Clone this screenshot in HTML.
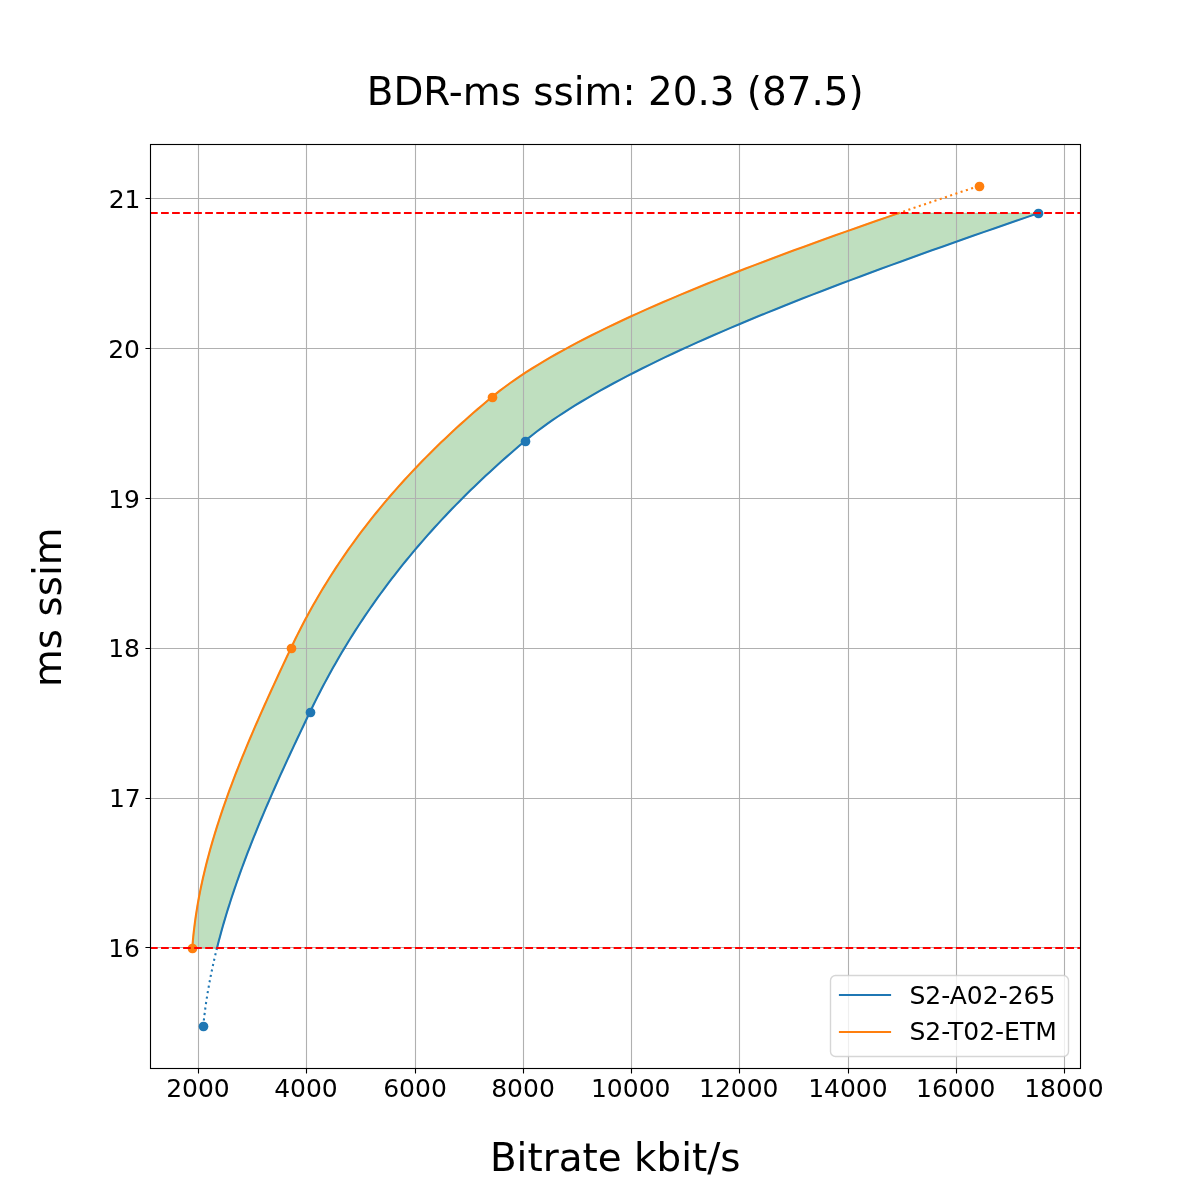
<!DOCTYPE html>
<html lang="en"><head><meta charset="utf-8"><title>BDR-ms ssim: 20.3 (87.5)</title>
<style>
html,body{margin:0;padding:0;background:#fff;overflow:hidden;}
svg{display:block;}
text{font-family:"DejaVu Sans","Liberation Sans",sans-serif;fill:#000;}
.tk{font-size:25px;}
.lb{font-size:38.89px;}
</style></head><body>
<svg width="1200" height="1200" viewBox="0 0 1200 1200">
<rect width="1200" height="1200" fill="#fff"/>
<path id="band" d="M216.95,948.25 L217.88,944.56 L218.83,940.86 L219.81,937.17 L220.81,933.48 L221.83,929.79 L222.87,926.09 L223.94,922.40 L225.02,918.71 L226.13,915.02 L227.26,911.32 L228.41,907.63 L229.58,903.94 L230.76,900.24 L231.97,896.55 L233.20,892.86 L234.44,889.17 L235.71,885.47 L236.99,881.78 L238.29,878.09 L239.60,874.40 L240.94,870.70 L242.29,867.01 L243.65,863.32 L245.04,859.63 L246.44,855.93 L247.85,852.24 L249.28,848.55 L250.73,844.86 L252.19,841.16 L253.66,837.47 L255.15,833.78 L256.65,830.08 L258.16,826.39 L259.69,822.70 L261.23,819.01 L262.79,815.31 L264.35,811.62 L265.93,807.93 L267.52,804.24 L269.12,800.54 L270.73,796.85 L272.35,793.16 L273.98,789.47 L275.62,785.77 L277.27,782.08 L278.93,778.39 L280.60,774.69 L282.28,771.00 L283.96,767.31 L285.66,763.62 L287.36,759.92 L289.07,756.23 L290.78,752.54 L292.51,748.85 L294.24,745.15 L295.97,741.46 L297.71,737.77 L299.46,734.08 L301.21,730.38 L302.97,726.69 L304.73,723.00 L306.50,719.31 L308.27,715.61 L310.04,711.92 L311.83,708.23 L313.64,704.53 L315.47,700.84 L317.33,697.15 L319.21,693.46 L321.12,689.76 L323.05,686.07 L325.01,682.38 L326.99,678.69 L329.00,674.99 L331.04,671.30 L333.10,667.61 L335.19,663.92 L337.31,660.22 L339.45,656.53 L341.63,652.84 L343.83,649.15 L346.06,645.45 L348.32,641.76 L350.61,638.07 L352.93,634.37 L355.28,630.68 L357.66,626.99 L360.07,623.30 L362.52,619.60 L364.99,615.91 L367.50,612.22 L370.04,608.53 L372.61,604.83 L375.21,601.14 L377.85,597.45 L380.52,593.76 L383.23,590.06 L385.97,586.37 L388.75,582.68 L391.56,578.99 L394.40,575.29 L397.28,571.60 L400.20,567.91 L403.16,564.21 L406.15,560.52 L409.18,556.83 L412.24,553.14 L415.35,549.44 L418.49,545.75 L421.67,542.06 L424.89,538.37 L428.15,534.67 L431.45,530.98 L434.78,527.29 L438.16,523.60 L441.58,519.90 L445.04,516.21 L448.54,512.52 L452.09,508.82 L455.67,505.13 L459.30,501.44 L462.97,497.75 L466.68,494.05 L470.44,490.36 L474.24,486.67 L478.09,482.98 L481.97,479.28 L485.91,475.59 L489.89,471.90 L493.91,468.21 L497.98,464.51 L502.10,460.82 L506.26,457.13 L510.47,453.44 L514.73,449.74 L519.03,446.05 L523.39,442.36 L527.81,438.66 L532.40,434.97 L537.16,431.28 L542.09,427.59 L547.19,423.89 L552.45,420.20 L557.88,416.51 L563.46,412.82 L569.20,409.12 L575.09,405.43 L581.14,401.74 L587.34,398.05 L593.68,394.35 L600.18,390.66 L606.81,386.97 L613.59,383.28 L620.50,379.58 L627.55,375.89 L634.74,372.20 L642.05,368.50 L649.50,364.81 L657.07,361.12 L664.77,357.43 L672.59,353.73 L680.53,350.04 L688.59,346.35 L696.77,342.66 L705.06,338.96 L713.46,335.27 L721.96,331.58 L730.58,327.89 L739.29,324.19 L748.11,320.50 L757.03,316.81 L766.05,313.12 L775.16,309.42 L784.36,305.73 L793.66,302.04 L803.04,298.34 L812.50,294.65 L822.05,290.96 L831.69,287.27 L841.40,283.57 L851.18,279.88 L861.04,276.19 L870.97,272.50 L880.97,268.80 L891.04,265.11 L901.17,261.42 L911.37,257.73 L921.62,254.03 L931.93,250.34 L942.30,246.65 L952.72,242.96 L963.20,239.26 L973.72,235.57 L984.28,231.88 L994.89,228.18 L1005.55,224.49 L1016.24,220.80 L1026.96,217.11 L1037.73,213.41 L897.91,213.41 L887.22,217.11 L876.58,220.80 L866.01,224.49 L855.51,228.18 L845.07,231.88 L834.70,235.57 L824.40,239.26 L814.19,242.96 L804.04,246.65 L793.99,250.34 L784.01,254.03 L774.12,257.73 L764.33,261.42 L754.62,265.11 L745.01,268.80 L735.50,272.50 L726.09,276.19 L716.79,279.88 L707.59,283.57 L698.50,287.27 L689.53,290.96 L680.66,294.65 L671.92,298.34 L663.30,302.04 L654.80,305.73 L646.43,309.42 L638.19,313.12 L630.08,316.81 L622.10,320.50 L614.26,324.19 L606.57,327.89 L599.01,331.58 L591.60,335.27 L584.34,338.96 L577.24,342.66 L570.28,346.35 L563.49,350.04 L556.85,353.73 L550.38,357.43 L544.07,361.12 L537.94,364.81 L531.97,368.50 L526.18,372.20 L520.56,375.89 L515.13,379.58 L509.87,383.28 L504.80,386.97 L499.92,390.66 L495.24,394.35 L490.74,398.05 L486.32,401.74 L481.96,405.43 L477.66,409.12 L473.40,412.82 L469.19,416.51 L465.04,420.20 L460.93,423.89 L456.87,427.59 L452.86,431.28 L448.91,434.97 L445.00,438.66 L441.13,442.36 L437.32,446.05 L433.55,449.74 L429.83,453.44 L426.16,457.13 L422.54,460.82 L418.96,464.51 L415.42,468.21 L411.93,471.90 L408.49,475.59 L405.09,479.28 L401.73,482.98 L398.42,486.67 L395.15,490.36 L391.92,494.05 L388.74,497.75 L385.60,501.44 L382.50,505.13 L379.44,508.82 L376.43,512.52 L373.45,516.21 L370.52,519.90 L367.62,523.60 L364.77,527.29 L361.95,530.98 L359.18,534.67 L356.44,538.37 L353.74,542.06 L351.08,545.75 L348.45,549.44 L345.87,553.14 L343.32,556.83 L340.80,560.52 L338.32,564.21 L335.88,567.91 L333.48,571.60 L331.10,575.29 L328.77,578.99 L326.47,582.68 L324.20,586.37 L321.96,590.06 L319.76,593.76 L317.59,597.45 L315.45,601.14 L313.35,604.83 L311.28,608.53 L309.23,612.22 L307.22,615.91 L305.24,619.60 L303.29,623.30 L301.37,626.99 L299.48,630.68 L297.62,634.37 L295.79,638.07 L293.99,641.76 L292.21,645.45 L290.46,649.15 L288.72,652.84 L286.98,656.53 L285.25,660.22 L283.52,663.92 L281.79,667.61 L280.07,671.30 L278.35,674.99 L276.64,678.69 L274.94,682.38 L273.24,686.07 L271.55,689.76 L269.86,693.46 L268.18,697.15 L266.51,700.84 L264.85,704.53 L263.20,708.23 L261.56,711.92 L259.92,715.61 L258.29,719.31 L256.68,723.00 L255.07,726.69 L253.48,730.38 L251.90,734.08 L250.33,737.77 L248.77,741.46 L247.22,745.15 L245.69,748.85 L244.16,752.54 L242.66,756.23 L241.16,759.92 L239.68,763.62 L238.22,767.31 L236.77,771.00 L235.33,774.69 L233.91,778.39 L232.51,782.08 L231.12,785.77 L229.75,789.47 L228.40,793.16 L227.07,796.85 L225.75,800.54 L224.45,804.24 L223.17,807.93 L221.91,811.62 L220.67,815.31 L219.45,819.01 L218.25,822.70 L217.07,826.39 L215.92,830.08 L214.78,833.78 L213.66,837.47 L212.57,841.16 L211.50,844.86 L210.45,848.55 L209.43,852.24 L208.43,855.93 L207.45,859.63 L206.50,863.32 L205.58,867.01 L204.68,870.70 L203.80,874.40 L202.95,878.09 L202.13,881.78 L201.33,885.47 L200.56,889.17 L199.82,892.86 L199.11,896.55 L198.42,900.24 L197.77,903.94 L197.14,907.63 L196.54,911.32 L195.98,915.02 L195.44,918.71 L194.93,922.40 L194.46,926.09 L194.01,929.79 L193.60,933.48 L193.22,937.17 L192.87,940.86 L192.55,944.56 L192.27,948.25Z" fill="#008000" fill-opacity="0.25" stroke="#008000" stroke-opacity="0.25" stroke-width="1.39" stroke-linejoin="miter"/>
<g id="grid">
<path d="M198.5,144.5V1068.5M306.5,144.5V1068.5M415.5,144.5V1068.5M523.5,144.5V1068.5M631.5,144.5V1068.5M739.5,144.5V1068.5M848.5,144.5V1068.5M956.5,144.5V1068.5M1064.5,144.5V1068.5M150.5,947.5H1080.5M150.5,798.5H1080.5M150.5,648.5H1080.5M150.5,498.5H1080.5M150.5,348.5H1080.5M150.5,198.5H1080.5" stroke="#b0b0b0" stroke-width="1.11" fill="none"/>
</g>
<g id="ticks">
<path d="M198.5,1068.5v5.05M306.5,1068.5v5.05M415.5,1068.5v5.05M523.5,1068.5v5.05M631.5,1068.5v5.05M739.5,1068.5v5.05M848.5,1068.5v5.05M956.5,1068.5v5.05M1064.5,1068.5v5.05M150.5,947.5h-5.05M150.5,798.5h-5.05M150.5,648.5h-5.05M150.5,498.5h-5.05M150.5,348.5h-5.05M150.5,198.5h-5.05" stroke="#000" stroke-width="1.11" fill="none"/>
</g>
<g id="curves" fill="none" stroke-width="2.08">
<path d="M216.95,948.25 L217.88,944.56 L218.83,940.86 L219.81,937.17 L220.81,933.48 L221.83,929.79 L222.87,926.09 L223.94,922.40 L225.02,918.71 L226.13,915.02 L227.26,911.32 L228.41,907.63 L229.58,903.94 L230.76,900.24 L231.97,896.55 L233.20,892.86 L234.44,889.17 L235.71,885.47 L236.99,881.78 L238.29,878.09 L239.60,874.40 L240.94,870.70 L242.29,867.01 L243.65,863.32 L245.04,859.63 L246.44,855.93 L247.85,852.24 L249.28,848.55 L250.73,844.86 L252.19,841.16 L253.66,837.47 L255.15,833.78 L256.65,830.08 L258.16,826.39 L259.69,822.70 L261.23,819.01 L262.79,815.31 L264.35,811.62 L265.93,807.93 L267.52,804.24 L269.12,800.54 L270.73,796.85 L272.35,793.16 L273.98,789.47 L275.62,785.77 L277.27,782.08 L278.93,778.39 L280.60,774.69 L282.28,771.00 L283.96,767.31 L285.66,763.62 L287.36,759.92 L289.07,756.23 L290.78,752.54 L292.51,748.85 L294.24,745.15 L295.97,741.46 L297.71,737.77 L299.46,734.08 L301.21,730.38 L302.97,726.69 L304.73,723.00 L306.50,719.31 L308.27,715.61 L310.04,711.92 L311.83,708.23 L313.64,704.53 L315.47,700.84 L317.33,697.15 L319.21,693.46 L321.12,689.76 L323.05,686.07 L325.01,682.38 L326.99,678.69 L329.00,674.99 L331.04,671.30 L333.10,667.61 L335.19,663.92 L337.31,660.22 L339.45,656.53 L341.63,652.84 L343.83,649.15 L346.06,645.45 L348.32,641.76 L350.61,638.07 L352.93,634.37 L355.28,630.68 L357.66,626.99 L360.07,623.30 L362.52,619.60 L364.99,615.91 L367.50,612.22 L370.04,608.53 L372.61,604.83 L375.21,601.14 L377.85,597.45 L380.52,593.76 L383.23,590.06 L385.97,586.37 L388.75,582.68 L391.56,578.99 L394.40,575.29 L397.28,571.60 L400.20,567.91 L403.16,564.21 L406.15,560.52 L409.18,556.83 L412.24,553.14 L415.35,549.44 L418.49,545.75 L421.67,542.06 L424.89,538.37 L428.15,534.67 L431.45,530.98 L434.78,527.29 L438.16,523.60 L441.58,519.90 L445.04,516.21 L448.54,512.52 L452.09,508.82 L455.67,505.13 L459.30,501.44 L462.97,497.75 L466.68,494.05 L470.44,490.36 L474.24,486.67 L478.09,482.98 L481.97,479.28 L485.91,475.59 L489.89,471.90 L493.91,468.21 L497.98,464.51 L502.10,460.82 L506.26,457.13 L510.47,453.44 L514.73,449.74 L519.03,446.05 L523.39,442.36 L527.81,438.66 L532.40,434.97 L537.16,431.28 L542.09,427.59 L547.19,423.89 L552.45,420.20 L557.88,416.51 L563.46,412.82 L569.20,409.12 L575.09,405.43 L581.14,401.74 L587.34,398.05 L593.68,394.35 L600.18,390.66 L606.81,386.97 L613.59,383.28 L620.50,379.58 L627.55,375.89 L634.74,372.20 L642.05,368.50 L649.50,364.81 L657.07,361.12 L664.77,357.43 L672.59,353.73 L680.53,350.04 L688.59,346.35 L696.77,342.66 L705.06,338.96 L713.46,335.27 L721.96,331.58 L730.58,327.89 L739.29,324.19 L748.11,320.50 L757.03,316.81 L766.05,313.12 L775.16,309.42 L784.36,305.73 L793.66,302.04 L803.04,298.34 L812.50,294.65 L822.05,290.96 L831.69,287.27 L841.40,283.57 L851.18,279.88 L861.04,276.19 L870.97,272.50 L880.97,268.80 L891.04,265.11 L901.17,261.42 L911.37,257.73 L921.62,254.03 L931.93,250.34 L942.30,246.65 L952.72,242.96 L963.20,239.26 L973.72,235.57 L984.28,231.88 L994.89,228.18 L1005.55,224.49 L1016.24,220.80 L1026.96,217.11 L1037.73,213.41" stroke="#1f77b4" stroke-linecap="square" stroke-linejoin="round"/>
<path d="M192.27,948.25 L192.55,944.56 L192.87,940.86 L193.22,937.17 L193.60,933.48 L194.01,929.79 L194.46,926.09 L194.93,922.40 L195.44,918.71 L195.98,915.02 L196.54,911.32 L197.14,907.63 L197.77,903.94 L198.42,900.24 L199.11,896.55 L199.82,892.86 L200.56,889.17 L201.33,885.47 L202.13,881.78 L202.95,878.09 L203.80,874.40 L204.68,870.70 L205.58,867.01 L206.50,863.32 L207.45,859.63 L208.43,855.93 L209.43,852.24 L210.45,848.55 L211.50,844.86 L212.57,841.16 L213.66,837.47 L214.78,833.78 L215.92,830.08 L217.07,826.39 L218.25,822.70 L219.45,819.01 L220.67,815.31 L221.91,811.62 L223.17,807.93 L224.45,804.24 L225.75,800.54 L227.07,796.85 L228.40,793.16 L229.75,789.47 L231.12,785.77 L232.51,782.08 L233.91,778.39 L235.33,774.69 L236.77,771.00 L238.22,767.31 L239.68,763.62 L241.16,759.92 L242.66,756.23 L244.16,752.54 L245.69,748.85 L247.22,745.15 L248.77,741.46 L250.33,737.77 L251.90,734.08 L253.48,730.38 L255.07,726.69 L256.68,723.00 L258.29,719.31 L259.92,715.61 L261.56,711.92 L263.20,708.23 L264.85,704.53 L266.51,700.84 L268.18,697.15 L269.86,693.46 L271.55,689.76 L273.24,686.07 L274.94,682.38 L276.64,678.69 L278.35,674.99 L280.07,671.30 L281.79,667.61 L283.52,663.92 L285.25,660.22 L286.98,656.53 L288.72,652.84 L290.46,649.15 L292.21,645.45 L293.99,641.76 L295.79,638.07 L297.62,634.37 L299.48,630.68 L301.37,626.99 L303.29,623.30 L305.24,619.60 L307.22,615.91 L309.23,612.22 L311.28,608.53 L313.35,604.83 L315.45,601.14 L317.59,597.45 L319.76,593.76 L321.96,590.06 L324.20,586.37 L326.47,582.68 L328.77,578.99 L331.10,575.29 L333.48,571.60 L335.88,567.91 L338.32,564.21 L340.80,560.52 L343.32,556.83 L345.87,553.14 L348.45,549.44 L351.08,545.75 L353.74,542.06 L356.44,538.37 L359.18,534.67 L361.95,530.98 L364.77,527.29 L367.62,523.60 L370.52,519.90 L373.45,516.21 L376.43,512.52 L379.44,508.82 L382.50,505.13 L385.60,501.44 L388.74,497.75 L391.92,494.05 L395.15,490.36 L398.42,486.67 L401.73,482.98 L405.09,479.28 L408.49,475.59 L411.93,471.90 L415.42,468.21 L418.96,464.51 L422.54,460.82 L426.16,457.13 L429.83,453.44 L433.55,449.74 L437.32,446.05 L441.13,442.36 L445.00,438.66 L448.91,434.97 L452.86,431.28 L456.87,427.59 L460.93,423.89 L465.04,420.20 L469.19,416.51 L473.40,412.82 L477.66,409.12 L481.96,405.43 L486.32,401.74 L490.74,398.05 L495.24,394.35 L499.92,390.66 L504.80,386.97 L509.87,383.28 L515.13,379.58 L520.56,375.89 L526.18,372.20 L531.97,368.50 L537.94,364.81 L544.07,361.12 L550.38,357.43 L556.85,353.73 L563.49,350.04 L570.28,346.35 L577.24,342.66 L584.34,338.96 L591.60,335.27 L599.01,331.58 L606.57,327.89 L614.26,324.19 L622.10,320.50 L630.08,316.81 L638.19,313.12 L646.43,309.42 L654.80,305.73 L663.30,302.04 L671.92,298.34 L680.66,294.65 L689.53,290.96 L698.50,287.27 L707.59,283.57 L716.79,279.88 L726.09,276.19 L735.50,272.50 L745.01,268.80 L754.62,265.11 L764.33,261.42 L774.12,257.73 L784.01,254.03 L793.99,250.34 L804.04,246.65 L814.19,242.96 L824.40,239.26 L834.70,235.57 L845.07,231.88 L855.51,228.18 L866.01,224.49 L876.58,220.80 L887.22,217.11 L897.91,213.41" stroke="#ff7f0e" stroke-linecap="square" stroke-linejoin="round"/>
<path d="M203.27,1026.00 L203.42,1024.41 L203.58,1022.83 L203.75,1021.24 L203.92,1019.65 L204.10,1018.07 L204.29,1016.48 L204.47,1014.89 L204.67,1013.31 L204.87,1011.72 L205.07,1010.13 L205.28,1008.55 L205.50,1006.96 L205.72,1005.37 L205.94,1003.79 L206.17,1002.20 L206.41,1000.61 L206.65,999.03 L206.90,997.44 L207.15,995.85 L207.41,994.26 L207.67,992.68 L207.94,991.09 L208.21,989.50 L208.48,987.92 L208.77,986.33 L209.05,984.74 L209.34,983.16 L209.64,981.57 L209.94,979.98 L210.25,978.40 L210.56,976.81 L210.87,975.22 L211.19,973.64 L211.52,972.05 L211.85,970.46 L212.18,968.88 L212.52,967.29 L212.87,965.70 L213.21,964.12 L213.57,962.53 L213.92,960.94 L214.29,959.36 L214.65,957.77 L215.02,956.18 L215.40,954.60 L215.78,953.01 L216.16,951.42 L216.55,949.84 L216.95,948.25" stroke="#1f77b4" stroke-dasharray="2.08 3.44"/>
<path d="M897.91,213.41 L899.53,212.85 L901.16,212.30 L902.79,211.74 L904.42,211.18 L906.05,210.62 L907.68,210.06 L909.31,209.50 L910.94,208.94 L912.58,208.38 L914.21,207.82 L915.85,207.26 L917.49,206.70 L919.13,206.14 L920.77,205.58 L922.41,205.02 L924.06,204.46 L925.70,203.90 L927.35,203.34 L928.99,202.78 L930.64,202.22 L932.29,201.67 L933.94,201.11 L935.59,200.55 L937.24,199.99 L938.89,199.43 L940.55,198.87 L942.20,198.31 L943.86,197.75 L945.52,197.19 L947.17,196.63 L948.83,196.07 L950.49,195.51 L952.15,194.95 L953.82,194.39 L955.48,193.83 L957.14,193.27 L958.81,192.71 L960.47,192.15 L962.14,191.59 L963.81,191.04 L965.48,190.48 L967.15,189.92 L968.82,189.36 L970.49,188.80 L972.16,188.24 L973.83,187.68 L975.51,187.12 L977.18,186.56 L978.86,186.00" stroke="#ff7f0e" stroke-dasharray="2.08 3.44"/>
</g>
<g id="markers">
<circle cx="203.5" cy="1026.5" r="4.86" fill="#1f77b4"/>
<circle cx="310.5" cy="712.5" r="4.86" fill="#1f77b4"/>
<circle cx="525.5" cy="441.5" r="4.86" fill="#1f77b4"/>
<circle cx="1038.5" cy="213.5" r="4.86" fill="#1f77b4"/>
<circle cx="192.5" cy="948.5" r="4.86" fill="#ff7f0e"/>
<circle cx="291.5" cy="648.5" r="4.86" fill="#ff7f0e"/>
<circle cx="492.5" cy="397.5" r="4.86" fill="#ff7f0e"/>
<circle cx="979.5" cy="186.5" r="4.86" fill="#ff7f0e"/>
</g>
<g id="limits" fill="none" stroke="#ff0000" stroke-width="2.08" stroke-dasharray="7.71 3.33">
<path d="M150,948H1080"/>
<path d="M150,213H1080"/>
</g>
<rect id="frame" x="150.5" y="144.5" width="930.0" height="924.0" fill="none" stroke="#000" stroke-width="1.11"/>
<g id="xticklabels" class="tk" text-anchor="middle">
<text x="197.97" y="1097.2">2000</text>
<text x="305.97" y="1097.2">4000</text>
<text x="415.02" y="1097.2">6000</text>
<text x="523.02" y="1097.2">8000</text>
<text x="630.74" y="1097.2">10000</text>
<text x="738.75" y="1097.2">12000</text>
<text x="847.92" y="1097.2">14000</text>
<text x="955.77" y="1097.2">16000</text>
<text x="1063.93" y="1097.2">18000</text>
</g>
<g id="yticklabels" class="tk" text-anchor="end">
<text x="139.95" y="956.85">16</text>
<text x="140.75" y="806.85">17</text>
<text x="139.95" y="656.85">18</text>
<text x="139.95" y="507.85">19</text>
<text x="139.95" y="357.85">20</text>
<text x="140.50" y="207.85">21</text>
</g>
<text class="lb" x="615.25" y="105.3" text-anchor="middle">BDR-ms ssim: 20.3 (87.5)</text>
<text class="lb" x="615.25" y="1170.8" text-anchor="middle">Bitrate kbit/s</text>
<text class="lb" transform="translate(61.4,607.25) rotate(-90)" text-anchor="middle">ms ssim</text>
<g id="legend">
<rect x="830.5" y="975.5" width="238.0" height="81.0" rx="5" ry="5" fill="#fff" fill-opacity="0.8" stroke="#cccccc" stroke-opacity="0.8" stroke-width="1.39"/>
<path d="M839.95,995.0H890.05" stroke="#1f77b4" stroke-width="2.08" stroke-linecap="square"/>
<path d="M839.95,1032.0H890.05" stroke="#ff7f0e" stroke-width="2.08" stroke-linecap="square"/>
<text class="tk" x="909.5" y="1003.6">S2-A02-265</text>
<text class="tk" x="909.5" y="1039.7">S2-T02-ETM</text>
</g>
</svg></body></html>
